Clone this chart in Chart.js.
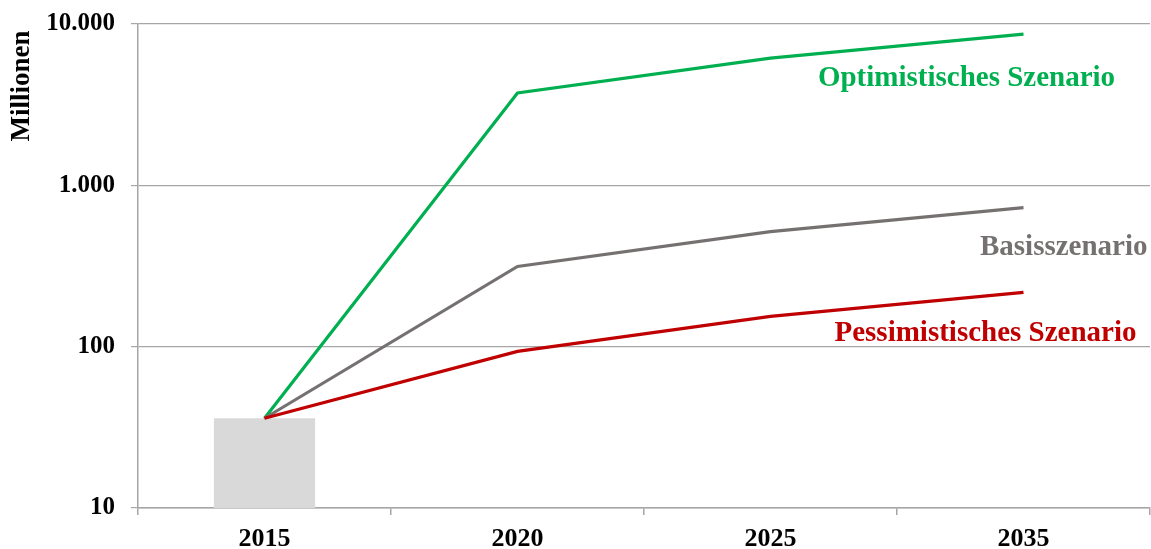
<!DOCTYPE html>
<html>
<head>
<meta charset="utf-8">
<script src="https://cdn.jsdelivr.net/npm/chart.js@4.4.1/dist/chart.umd.min.js"></script>
<style>
  html, body { margin: 0; padding: 0; background: #fff; }
  #wrap { width: 1151px; height: 549px; }
</style>
</head>
<body>
<div id="wrap"><canvas id="chart"></canvas></div>
<script>
// Szenarien Millionen, log-Skala
const jahre = ['2015', '2020', '2025', '2035'];
const basisWert = [36, null, null, null];
const optimistisch = [36, 3740, 6150, 8650];
const basis = [36, 314, 516, 727];
const pessimistisch = [36, 93.5, 154, 217];
const yTicks = [10, 100, 1000, 10000];

const SERIF = '"Liberation Serif", "Times New Roman", serif';
const GRID = '#a6a6a6';

function fmtDe(v) {
  return String(v).replace(/\B(?=(\d{3})+(?!\d))/g, '.');
}

// Beschriftungen der Linien + Achsentitel
const labelPlugin = {
  id: 'labels',
  afterDatasetsDraw(chart) {
    const ctx = chart.ctx;
    const x = chart.scales.x, y = chart.scales.y;
    const last = jahre.length - 1;
    const px = x.getPixelForValue(last);
    ctx.save();
    ctx.font = 'bold 29px ' + SERIF;
    ctx.textBaseline = 'middle';

    ctx.fillStyle = '#00b050';
    ctx.textAlign = 'center';
    ctx.fillText('Optimistisches Szenario', px - 57, y.getPixelForValue(optimistisch[last]) + 44);

    ctx.fillStyle = '#767171';
    ctx.textAlign = 'right';
    ctx.fillText('Basisszenario', px + 124, y.getPixelForValue(basis[last]) + 40);

    ctx.fillStyle = '#c00000';
    ctx.textAlign = 'center';
    ctx.fillText('Pessimistisches Szenario', px - 38, y.getPixelForValue(pessimistisch[last]) + 41);

    // y-Achsentitel oben links
    ctx.fillStyle = '#000';
    ctx.font = 'bold 27px ' + SERIF;
    ctx.translate(22, 86);
    ctx.rotate(-Math.PI / 2);
    ctx.textAlign = 'center';
    ctx.fillText('Millionen', 0, 0);
    ctx.restore();
  }
};

new Chart(document.getElementById('chart'), {
  type: 'bar',
  data: {
    labels: jahre,
    datasets: [
      {
        type: 'line', label: 'Pessimistisches Szenario', data: pessimistisch,
        borderColor: '#c00000', borderWidth: 3.2, pointRadius: 0, order: 1
      },
      {
        type: 'line', label: 'Basisszenario', data: basis,
        borderColor: '#767171', borderWidth: 3.2, pointRadius: 0, order: 2
      },
      {
        type: 'line', label: 'Optimistisches Szenario', data: optimistisch,
        borderColor: '#00b050', borderWidth: 3.2, pointRadius: 0, order: 3
      },
      {
        type: 'bar', label: '2015', data: basisWert,
        backgroundColor: '#d9d9d9', barPercentage: 0.4, categoryPercentage: 1, order: 4
      }
    ]
  },
  options: {
    responsive: true,
    maintainAspectRatio: false,
    animation: false,
    layout: { padding: { top: 24, right: 1, left: 0, bottom: 0 } },
    plugins: { legend: { display: false }, tooltip: { enabled: false } },
    scales: {
      x: {
        offset: true,
        grid: { offset: true, drawOnChartArea: false, drawTicks: true, tickLength: 7, color: GRID, lineWidth: 1.5 },
        border: { color: GRID, width: 1.5 },
        ticks: { color: '#000', font: { family: SERIF, size: 26, weight: 'bold' }, padding: 9 },
        afterFit(s) { s.height = 41; }
      },
      y: {
        type: 'logarithmic',
        min: 10, max: 10000,
        afterBuildTicks(s) { s.ticks = yTicks.map(v => ({ value: v })); },
        grid: { color: GRID, lineWidth: 1.2, tickLength: 7 },
        border: { color: GRID, width: 1.5 },
        ticks: {
          color: '#000', font: { family: SERIF, size: 25, weight: 'bold' }, padding: 16,
          callback: v => fmtDe(v)
        },
        afterFit(s) { s.width = 138; s.paddingTop = 0; s.paddingBottom = 0; }
      }
    }
  },
  plugins: [labelPlugin]
});
</script>
</body>
</html>
